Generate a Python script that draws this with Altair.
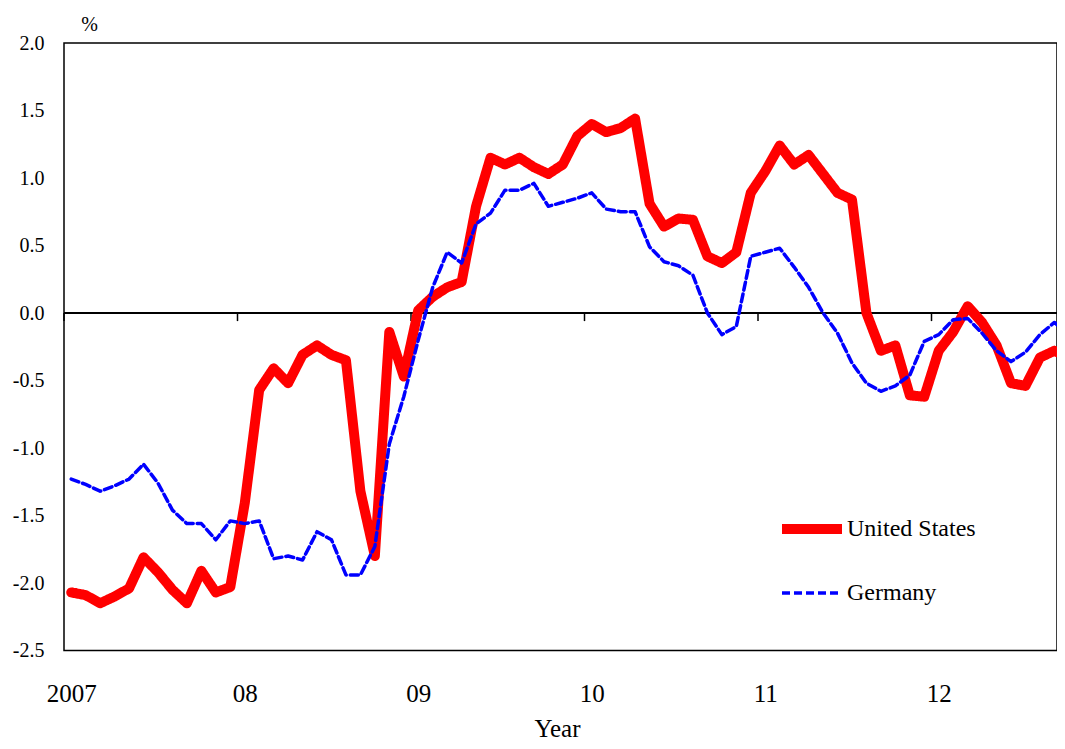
import altair as alt
import pandas as pd

series_names = ["United States", "Germany"]
series_colors = ["#FF0000", "#0000FF"]
year_labels = ["2007", "08", "09", "10", "11", "12"]

# monthly values from Jan 2007
us = [-2.07, -2.09, -2.15, -2.10, -2.04, -1.81, -1.92, -2.05, -2.15, -1.91, -2.07, -2.03,
      -1.41, -0.57, -0.41, -0.52, -0.31, -0.24, -0.31, -0.35, -1.32, -1.80, -0.14, -0.47,
      0.02, 0.12, 0.19, 0.23, 0.79, 1.15, 1.10, 1.15, 1.08, 1.03, 1.10, 1.31,
      1.40, 1.34, 1.37, 1.44, 0.81, 0.64, 0.70, 0.69, 0.42, 0.37, 0.45, 0.89,
      1.05, 1.24, 1.10, 1.17, 1.03, 0.89, 0.84, 0.00, -0.28, -0.24, -0.61, -0.62,
      -0.28, -0.14, 0.05, -0.07, -0.24, -0.52, -0.54, -0.33, -0.28, -0.33]
de = [-1.23, -1.27, -1.32, -1.28, -1.23, -1.12, -1.26, -1.46, -1.56, -1.56, -1.68, -1.54,
      -1.56, -1.54, -1.82, -1.80, -1.83, -1.62, -1.68, -1.94, -1.94, -1.73, -0.97, -0.62,
      -0.20, 0.19, 0.45, 0.37, 0.66, 0.74, 0.91, 0.91, 0.96, 0.79, 0.82, 0.85,
      0.89, 0.77, 0.75, 0.75, 0.49, 0.38, 0.35, 0.28, 0.00, -0.16, -0.10, 0.42,
      0.45, 0.48, 0.34, 0.19, 0.00, -0.15, -0.37, -0.52, -0.58, -0.54, -0.46, -0.21,
      -0.16, -0.05, -0.04, -0.15, -0.28, -0.36, -0.29, -0.16, -0.07, -0.16]

rows = []
for name, vals in zip(series_names, [us, de]):
    for i, v in enumerate(vals):
        rows.append({"t": i + 0.5, "value": v, "series": name, "ord": i})
df = pd.DataFrame(rows)

year_ticks = pd.DataFrame({"t": [12 * k for k in range(len(year_labels))]})

FONT = "Liberation Serif"
xdom = [0, 68.68]
xscale = alt.Scale(domain=xdom, nice=False, zero=False)
yscale = alt.Scale(domain=[-2.5, 2.0], nice=False, zero=False)

label_arr = "[" + ",".join("'%s'" % s for s in year_labels) + "]"


def make_legend():
    return alt.Legend(orient="none", legendX=713, legendY=451, title=None,
                      symbolType="stroke", symbolSize=3600,
                      labelFont=FONT, labelFontSize=24, labelColor="black",
                      labelOffset=0, rowPadding=12)


lines = alt.Chart(df).mark_line(clip=True, strokeCap="round", strokeJoin="round").encode(
    x=alt.X("t:Q", scale=xscale,
            axis=alt.Axis(values=[12 * k + 0.5 for k in range(len(year_labels))],
                          labelExpr=label_arr + "[floor(datum.value/12)]",
                          ticks=False, tickSize=0, domain=False, grid=False,
                          labelFont=FONT, labelFontSize=25, labelColor="black",
                          labelBaseline="alphabetic", labelPadding=51,
                          title="Year", titleFont=FONT, titleFontSize=25,
                          titleFontWeight="normal", titleColor="black",
                          titleBaseline="alphabetic", titleY=86, titleX=493)),
    y=alt.Y("value:Q", scale=yscale,
            axis=alt.Axis(values=[-2.5, -2.0, -1.5, -1.0, -0.5, 0.0, 0.5, 1.0, 1.5, 2.0],
                          labelExpr="replace(format(datum.value, '.1f'), '\u2212', '-')",
                          ticks=False, tickSize=0, domain=False, grid=False,
                          labelFont=FONT, labelFontSize=20, labelColor="black",
                          labelPadding=20,
                          title="%", titleAngle=0, titleFont=FONT, titleFontSize=20,
                          titleFontWeight="normal", titleColor="black",
                          titleAlign="center", titleBaseline="alphabetic",
                          titleX=25, titleY=-13)),
    color=alt.Color("series:N", scale=alt.Scale(domain=series_names, range=series_colors),
                    legend=make_legend()),
    strokeDash=alt.StrokeDash("series:N", scale=alt.Scale(domain=series_names, range=[[1, 0], [8, 4]]),
                              legend=make_legend()),
    strokeWidth=alt.StrokeWidth("series:N", scale=alt.Scale(domain=series_names, range=[10, 3.5]),
                                legend=make_legend()),
    order="ord:Q",
)

zero_line = alt.Chart(year_ticks).mark_rule(color="black", strokeWidth=1.5).encode(
    y=alt.datum(0, scale=yscale)
)
tick_marks = alt.Chart(year_ticks).mark_rule(color="black", strokeWidth=1.5).encode(
    x=alt.X("t:Q", scale=xscale),
    y=alt.datum(0, scale=yscale),
    y2=alt.datum(-0.06),
)

chart = alt.layer(zero_line, tick_marks, lines).properties(
    width=993, height=607.5,
    autosize=alt.AutoSizeParams(type="none"),
    padding={"left": 56, "top": 35, "right": 0, "bottom": 90.5},
    background="white",
).configure_view(stroke="black", strokeWidth=1.5)

chart.save("out.html", embed_options={"renderer": "svg", "actions": False})
